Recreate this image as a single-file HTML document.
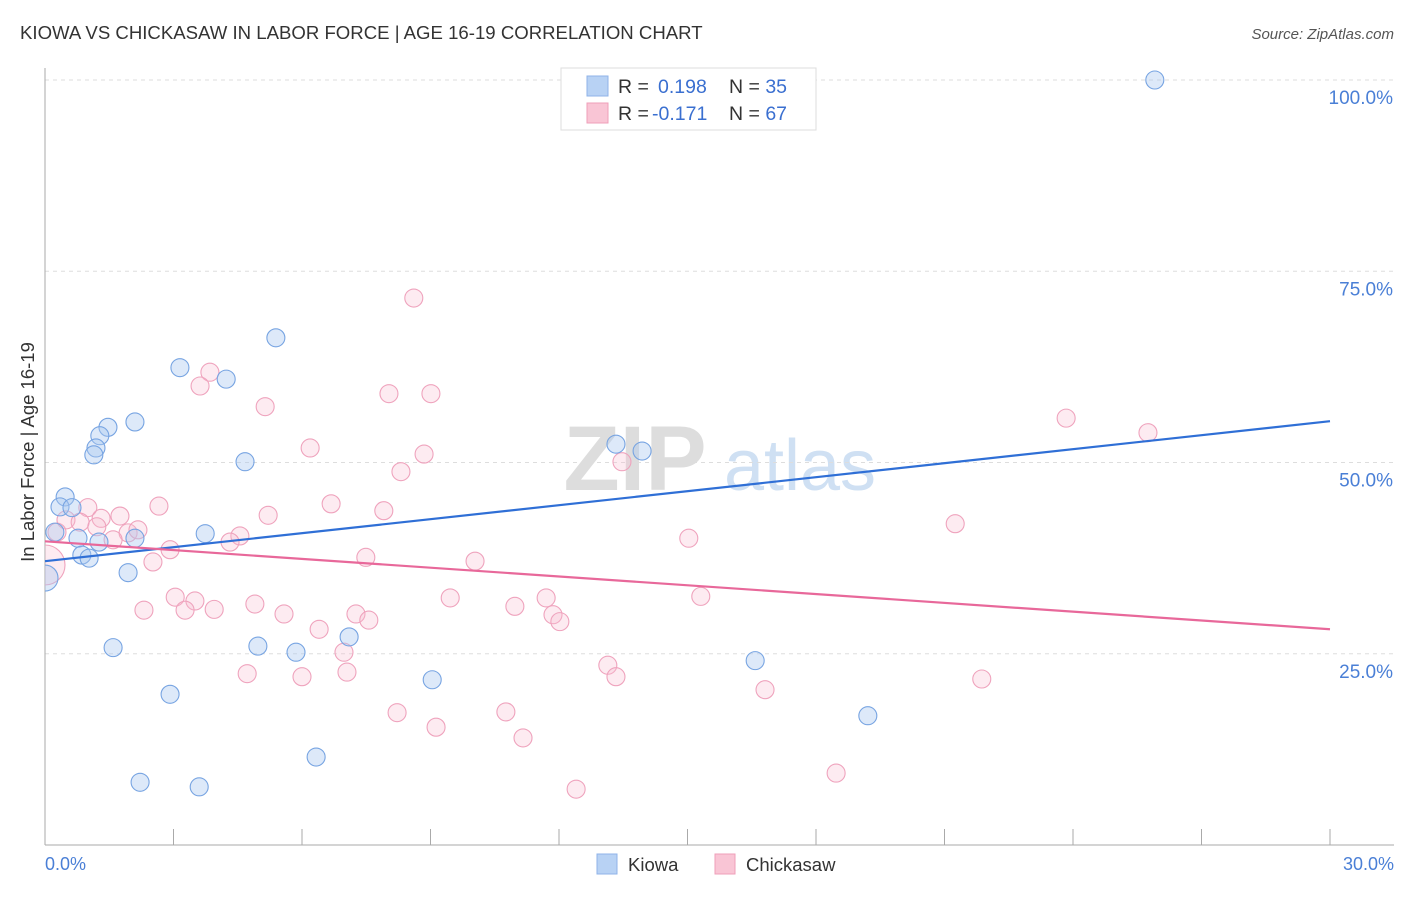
<!DOCTYPE html>
<html><head><meta charset="utf-8"><style>
body{margin:0;background:#fff;font-family:"Liberation Sans",Arial,sans-serif;}
svg text{font-family:"Liberation Sans",Arial,sans-serif;}
</style></head><body>
<svg id="chart" width="1406" height="892" xmlns="http://www.w3.org/2000/svg">
<defs><clipPath id="plotclip"><rect x="45" y="60" width="1360" height="785"/></clipPath></defs>
<text x="20" y="39" font-size="18.6" fill="#333">KIOWA VS CHICKASAW IN LABOR FORCE | AGE 16-19 CORRELATION CHART</text>
<text x="1394" y="39" font-size="15" fill="#555" text-anchor="end" font-style="italic">Source: ZipAtlas.com</text>
<g>
<text x="635" y="490" font-size="92" fill="#ddd" font-family="Liberation Serif" text-anchor="middle" font-weight="bold">ZIP</text>
<text x="800" y="490" font-size="72" fill="#cfe0f3" text-anchor="middle">atlas</text>
</g>
<g id="grid"></g>
<line x1="45" y1="68" x2="45" y2="845" stroke="#aaa" stroke-width="1"/>
<line x1="45" y1="845" x2="1394" y2="845" stroke="#aaa" stroke-width="1"/>
<text transform="translate(34,452) rotate(-90)" font-size="18.5" fill="#333" text-anchor="middle">In Labor Force | Age 16-19</text>
<text x="45" y="870" font-size="18" fill="#4a7fd6">0.0%</text>
<text x="1394" y="870" font-size="18" fill="#4a7fd6" text-anchor="end">30.0%</text>
<g id="points" clip-path="url(#plotclip)"></g>
<g id="trends"></g>
<g>
<rect x="561" y="68" width="255" height="62" fill="#fff" stroke="#ddd"/>
<rect x="587" y="76" width="21" height="20" fill="#b8d2f4" stroke="#8fb3e8"/>
<rect x="587" y="103" width="21" height="20" fill="#f9c5d5" stroke="#ef9fb9"/>
<text x="618" y="93" font-size="19.5" fill="#333">R = <tspan fill="#3a6fd0" x="658">0.198</tspan><tspan x="729">N = </tspan><tspan fill="#3a6fd0">35</tspan></text>
<text x="618" y="120" font-size="19.5" fill="#333">R = <tspan fill="#3a6fd0" x="652">-0.171</tspan><tspan x="729">N = </tspan><tspan fill="#3a6fd0">67</tspan></text>
</g>
<g>
<rect x="597" y="854" width="20" height="20" fill="#b8d2f4" stroke="#8fb3e8"/>
<text x="628" y="871" font-size="18.5" fill="#333">Kiowa</text>
<rect x="715" y="854" width="20" height="20" fill="#f9c5d5" stroke="#ef9fb9"/>
<text x="746" y="871" font-size="18.5" fill="#333">Chickasaw</text>
</g>
</svg>
<script>
const yTicks=[100,75,50,25];
const yTickLabels=["100.0%","75.0%","50.0%","25.0%"];
const xTicks=[0,3,6,9,12,15,18,21,24,27,30];
const kiowaX=[25.91,5.39,3.15,4.23,2.10,1.47,1.28,1.19,1.14,4.67,13.33,13.94,0.47,0.35,0.63,0.23,0.77,1.26,2.10,3.74,0.86,1.03,1.94,0,1.59,4.97,5.86,7.10,16.58,9.04,2.92,19.21,6.33,2.22,3.60];
const kiowaY=[100,66.3,62.4,60.9,55.3,54.6,53.5,51.9,51.0,50.1,52.4,51.5,45.5,44.2,44.1,40.9,40.1,39.6,40.1,40.7,37.9,37.5,35.6,34.9,25.8,26.0,25.2,27.2,24.1,21.6,19.7,16.9,11.5,8.2,7.6];
const kSize={23:13};
const chickX=[0,8.61,3.85,3.62,5.14,8.03,9.01,6.19,8.85,8.31,13.47,23.84,25.75,2.66,6.68,1.00,0.49,1.75,1.31,0.82,1.94,2.17,1.21,0.28,7.91,5.21,4.55,4.32,2.92,2.52,1.59,7.49,10.04,21.25,15.03,15.31,9.46,11.70,10.97,3.04,3.50,2.31,3.27,3.95,4.90,5.58,7.26,7.56,11.86,12.02,6.40,6.98,7.05,4.72,6.00,13.14,13.33,16.81,21.87,8.22,10.76,9.13,11.16,18.47,12.40];
const chickY=[36.6,71.5,61.8,60.0,57.3,59.0,59.0,51.9,51.1,48.8,50.1,55.8,53.9,44.3,44.6,44.1,42.5,43.0,42.7,42.2,40.8,41.2,41.6,40.9,43.7,43.1,40.4,39.6,38.6,37.0,39.9,37.6,37.1,42.0,40.1,32.5,32.3,32.3,31.2,32.4,31.9,30.7,30.7,30.8,31.5,30.2,30.2,29.4,30.1,29.2,28.2,25.2,22.6,22.4,22.0,23.5,22.0,20.3,21.7,17.3,17.4,15.4,14.0,9.4,7.3];
const cSize={0:20};
const kiowaTrend=[37.1,55.4];
const chickTrend=[39.7,28.2];
const trendX=[0,30];

const NS="http://www.w3.org/2000/svg";
const xs=v=>45+v/30*1285;
const ys=v=>845-v/100*765;
function mk(tag,attrs,parent){const e=document.createElementNS(NS,tag);for(const k in attrs)e.setAttribute(k,attrs[k]);parent.appendChild(e);return e;}
const grid=document.getElementById('grid');
yTicks.forEach((t,i)=>{
 const l=mk('line',{x1:45,x2:1394,y1:ys(t),y2:ys(t),stroke:'#ddd','stroke-dasharray':'4,4'},grid);
 
 
 const tx=mk('text',{x:1393,y:ys(t)+24,'font-size':19,fill:'#4a7fd6','text-anchor':'end'},grid);
 tx.textContent=yTickLabels[i];
 
 
});
xTicks.forEach(t=>{
 const l=mk('line',{x1:xs(t),x2:xs(t),y1:829,y2:845,stroke:'#aaa'},grid);
 
 
});
const pts=document.getElementById('points');
chickX.forEach((x,i)=>{
 const c=mk('circle',{cx:xs(x),cy:ys(chickY[i]),r:cSize[i]||9,fill:'rgba(249,190,208,0.3)',stroke:'#efa3bd','stroke-width':1.1},pts);
 
 
});
kiowaX.forEach((x,i)=>{
 const c=mk('circle',{cx:xs(x),cy:ys(kiowaY[i]),r:kSize[i]||9,fill:'rgba(170,200,240,0.4)',stroke:'#77a4e2','stroke-width':1.1},pts);
 
 
});
const tr=document.getElementById('trends');
const kl=mk('line',{x1:xs(trendX[0]),y1:ys(kiowaTrend[0]),x2:xs(trendX[1]),y2:ys(kiowaTrend[1]),stroke:'#2f6fd6','stroke-width':2.2},tr);


const cl=mk('line',{x1:xs(trendX[0]),y1:ys(chickTrend[0]),x2:xs(trendX[1]),y2:ys(chickTrend[1]),stroke:'#e8689a','stroke-width':2.2},tr);


</script>
</body></html>
